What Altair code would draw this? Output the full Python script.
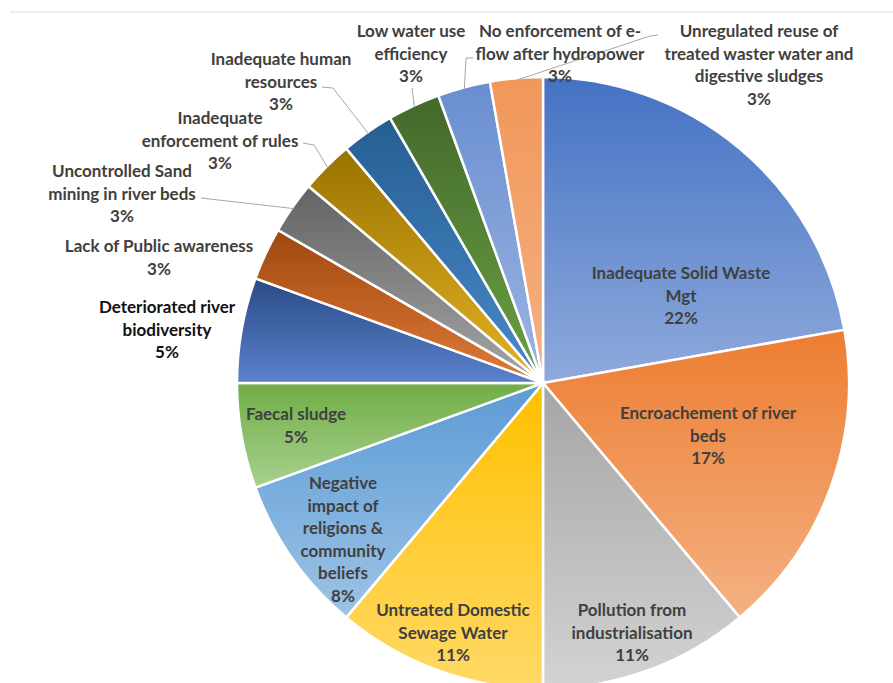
import altair as alt
import pandas as pd

# ---- data ----
categories = [
    "Inadequate Solid Waste Mgt",
    "Encroachement of river beds",
    "Pollution from industrialisation",
    "Untreated Domestic Sewage Water",
    "Negative impact of religions & community beliefs",
    "Faecal sludge",
    "Deteriorated river biodiversity",
    "Lack of Public awareness",
    "Uncontrolled Sand mining in river beds",
    "Inadequate enforcement of rules",
    "Inadequate human resources",
    "Low water use efficiency",
    "No enforcement of e-flow after hydropower",
    "Unregulated reuse of treated waster water and digestive sludges",
]
counts = [8, 6, 4, 4, 3, 2, 2, 1, 1, 1, 1, 1, 1, 1]
percent_labels = ["22%", "17%", "11%", "11%", "8%", "5%", "5%",
                  "3%", "3%", "3%", "3%", "3%", "3%", "3%"]
label_text = [
    "Inadequate Solid Waste\nMgt",
    "Encroachement of river\nbeds",
    "Pollution from\nindustrialisation",
    "Untreated Domestic\nSewage Water",
    "Negative\nimpact of\nreligions &\ncommunity\nbeliefs",
    "Faecal sludge",
    "Deteriorated river\nbiodiversity",
    "Lack of Public awareness",
    "Uncontrolled Sand\nmining in river beds",
    "Inadequate\nenforcement of rules",
    "Inadequate human\nresources",
    "Low water use\nefficiency",
    "No enforcement of e-\nflow after hydropower",
    "Unregulated reuse of\ntreated waster water and\ndigestive sludges",
]

# ---- styling / layout ----
top_colors = ["#4472C4", "#ED7D31", "#A5A5A5", "#FFC000", "#5B9BD5", "#70AD47",
              "#2A4A85", "#9E480E", "#636363", "#997300", "#255E91", "#43682B",
              "#698ED0", "#F1975A"]
bottom_colors = ["#8FAADC", "#F4B183", "#D3D3D3", "#FFD966", "#9DC3E6", "#A9D18E",
                 "#5A82CC", "#E07B39", "#A6A6A6", "#E5B225", "#4A8ACB", "#6BA243",
                 "#9CB5E2", "#F4B183"]
text_colors = ["#404040"] * 6 + ["#111111"] + ["#404040"] * 7
label_x = [681, 708, 632, 453, 343, 296, 167, 159, 122, 220, 281, 411, 560, 759]
label_y = [274, 414, 611, 611, 484, 415, 308, 247, 172, 119, 60, 32, 32, 32]  # first line
# leader lines: label-side start and bend point
lead_sx = [None] * 8 + [201, 303, 322, 412, 473, 658]
lead_sy = [None] * 8 + [198, 143, 87, 88, 58, 35]
lead_bx = [None] * 8 + [201, 314, 333, 412, 466, 650]
lead_by = [None] * 8 + [198, 145, 88, 88, 58, 36]

CX, CY, R = 543, 383, 306
TOTAL = sum(counts)

df = pd.DataFrame({
    "order": list(range(len(categories))),
    "category": categories,
    "count": counts,
    "label": [t + "\n" + p for t, p in zip(label_text, percent_labels)],
    "lx": label_x,
    "ly": label_y,
    "tcolor": text_colors,
    "sx": lead_sx, "sy": lead_sy, "bx": lead_bx, "by": lead_by,
})

base = alt.Chart(df).transform_window(
    end="sum(count)", sort=[alt.SortField("order")], frame=[None, 0]
).transform_calculate(
    start="datum.end - datum.count"
)

theta_scale = alt.Scale(domain=[0, TOTAL], range=[0, 6.283185307179586])

layers = []
for i, cat in enumerate(categories):
    grad = alt.LinearGradient(
        gradient="linear",
        stops=[alt.GradientStop(color=top_colors[i], offset=0),
               alt.GradientStop(color=bottom_colors[i], offset=1)],
        x1=0, x2=0, y1=0, y2=1,
    )
    layers.append(
        base.transform_filter(alt.datum.order == i)
        .mark_arc(outerRadius=R, stroke="white", strokeWidth=2.5, fill=grad)
        .encode(
            theta=alt.Theta("start:Q", scale=theta_scale),
            theta2="end:Q",
            x=alt.value(CX),
            y=alt.value(CY),
        )
    )

edge = base.transform_filter("isValid(datum.sx)").transform_calculate(
    mid=f"(datum.start + datum.end) / 2 / {TOTAL} * 2 * PI",
).transform_calculate(
    ex=f"{CX} + {R - 2} * sin(datum.mid)",
    ey=f"{CY} - {R - 2} * cos(datum.mid)",
)

stub = edge.mark_rule(color="#A6A6A6", strokeWidth=1).encode(
    x=alt.X("sx:Q", scale=None), y=alt.Y("sy:Q", scale=None),
    x2="bx:Q", y2="by:Q",
)
diag = edge.mark_rule(color="#A6A6A6", strokeWidth=1).encode(
    x=alt.X("bx:Q", scale=None), y=alt.Y("by:Q", scale=None),
    x2="ex:Q", y2="ey:Q",
)

labels = base.mark_text(
    font="Lato", fontSize=17, fontWeight="bold", lineBreak="\n",
    lineHeight=22.5, align="center", baseline="middle",
).encode(
    x=alt.X("lx:Q", scale=None),
    y=alt.Y("ly:Q", scale=None),
    text="label:N",
    color=alt.Color("tcolor:N", scale=None),
)

border = alt.Chart(pd.DataFrame({"a": [0]})).mark_rule(
    color="#DDDDDD", strokeWidth=1
).encode(x=alt.value(10), x2=alt.value(893), y=alt.value(12))

chart = alt.layer(border, *layers, stub, diag, labels).properties(
    width=893, height=683, padding=0,
    autosize=alt.AutoSizeParams(type="none"),
    background="white",
).configure_view(stroke=None)

chart.save("out.html", embed_options={"renderer": "svg", "actions": False})
